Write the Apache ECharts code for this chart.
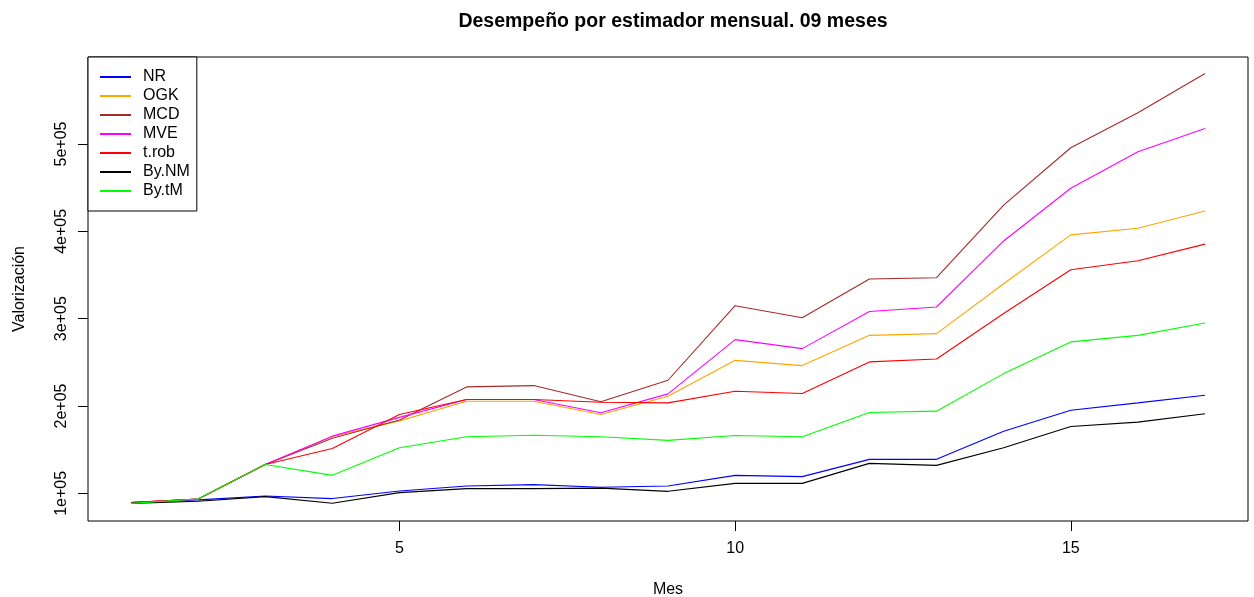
<!DOCTYPE html>
<html>
<head>
<meta charset="utf-8">
<script src="https://cdn.jsdelivr.net/npm/echarts@6/dist/echarts.min.js"></script>
<style>
html,body{margin:0;padding:0;background:#fff;}
#chart{width:1254px;height:597px;}
</style>
</head>
<body>
<div id="chart"></div>
<script>
const months = [1,2,3,4,5,6,7,8,9,10,11,12,13,14,15,16,17];
const NR   = [89500, 92500, 97000, 94000, 102700, 108400, 110000, 107000, 108400, 120600, 119100, 138900, 138900, 171200, 195200, 203600, 212300];
const OGK  = [89500, 93500, 133000, 165000, 183000, 205500, 205500, 190300, 211200, 252300, 246300, 280900, 282900, 340000, 396000, 403600, 423400];
const MCD  = [89500, 93500, 133000, 163000, 184000, 221900, 223400, 204800, 229500, 314900, 301100, 345400, 346900, 430000, 495800, 535800, 580800];
const MVE  = [89500, 93500, 133000, 165500, 187000, 207400, 207400, 192200, 213900, 276000, 265700, 308300, 313400, 389000, 449400, 491200, 517900];
const tRob = [89500, 93500, 133000, 151400, 190300, 207400, 207400, 204300, 203600, 216900, 214300, 250500, 253900, 306000, 356000, 366300, 385400];
const ByNM = [88500, 91000, 96200, 88600, 100800, 105400, 105400, 106000, 102300, 111400, 111400, 134300, 132000, 152200, 176600, 181500, 191100];
const BytM = [88500, 93500, 133000, 120600, 152200, 164800, 166600, 164800, 160600, 166300, 164800, 192600, 194100, 237100, 273400, 280900, 295100];

const seriesNames = ['NR','OGK','MCD','MVE','t.rob','By.NM','By.tM'];
const seriesData = [NR, OGK, MCD, MVE, tRob, ByNM, BytM];
const seriesColors = ['#0000FF','#FFA500','#A52A2A','#FF00FF','#FF0000','#000000','#00FF00'];
const xTicks = [5, 10, 15];
const yTicks = [100000, 200000, 300000, 400000, 500000];
const yTickLabels = ['1e+05','2e+05','3e+05','4e+05','5e+05'];
const titleText = 'Desempeño por estimador mensual. 09 meses';

const FONT = '"Liberation Sans", Arial, sans-serif';
const chart = echarts.init(document.getElementById('chart'), null, {renderer:'canvas'});

const series = seriesNames.map((n, k) => ({
  name: n,
  type: 'line',
  data: months.map((m, i) => [m, seriesData[k][i]]),
  showSymbol: false,
  symbol: 'none',
  lineStyle: {width: 1.1, color: seriesColors[k]},
  itemStyle: {color: seriesColors[k]},
  emphasis: {disabled: true},
  z: 2 + k
}));

chart.setOption({
  animation: false,
  backgroundColor: '#fff',
  title: {
    text: titleText,
    left: 668,
    textAlign: 'center',
    top: 7,
    textStyle: {fontFamily: FONT, fontSize: 19.5, fontWeight: 'bold', color: '#000'}
  },
  grid: {
    left: 88, top: 57, right: 6, bottom: 76,
    outerBoundsMode: 'none',
    containLabel: false,
    show: true, borderColor: '#000', borderWidth: 1, backgroundColor: 'transparent'
  },
  legend: {
    orient: 'vertical',
    left: 88, top: 57,
    backgroundColor: '#fff',
    borderColor: '#000', borderWidth: 1, borderRadius: 0,
    padding: [12, 7, 12, 12],
    itemWidth: 31, itemHeight: 2, itemGap: 3,
    icon: 'rect',
    data: seriesNames,
    textStyle: {fontFamily: FONT, fontSize: 16, color: '#000', lineHeight: 16, padding: [0,0,0,7]},
    selectedMode: false,
    z: 10
  },
  xAxis: {
    type: 'value',
    min: 0.36, max: 17.64,
    name: 'Mes',
    nameLocation: 'middle',
    nameGap: 61,
    nameTextStyle: {fontFamily: FONT, fontSize: 16, color: '#000'},
    splitLine: {show: false},
    axisLine: {show: false},
    axisTick: {show: true, customValues: xTicks, length: 10, inside: false, lineStyle: {color: '#000'}},
    axisLabel: {customValues: xTicks, fontFamily: FONT, fontSize: 16, color: '#000', margin: 20}
  },
  yAxis: {
    type: 'value',
    min: 68320, max: 599680,
    name: 'Valorización',
    nameLocation: 'middle',
    nameRotate: 90,
    nameGap: 60,
    nameTextStyle: {fontFamily: FONT, fontSize: 16, color: '#000'},
    splitLine: {show: false},
    axisLine: {show: false},
    axisTick: {show: true, customValues: yTicks, length: 10, inside: false, lineStyle: {color: '#000'}},
    axisLabel: {
      customValues: yTicks, rotate: 90, fontFamily: FONT, fontSize: 16, color: '#000', margin: 18,
      formatter: v => { const i = yTicks.indexOf(v); return i >= 0 ? yTickLabels[i] : ''; }
    }
  },
  series: series
});
</script>
</body>
</html>
